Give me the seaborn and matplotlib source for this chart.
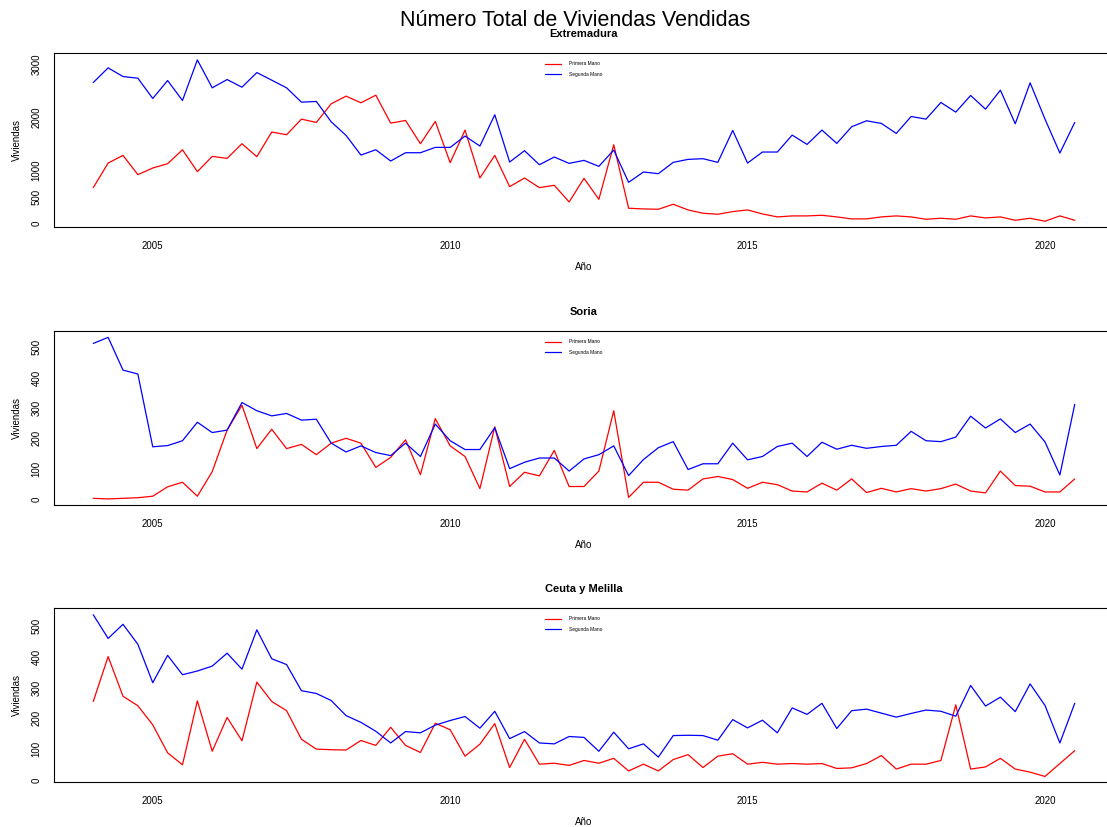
import numpy as np
import pandas as pd
import seaborn as sns
import matplotlib.pyplot as plt

# quarterly series, 2004 Q1 .. 2020 Q3
start_year = 2004
series_names = ['Primera Mano', 'Segunda Mano']
regions = ['Extremadura', 'Soria', 'Ceuta y Melilla']

extremadura_primera = [675, 1137, 1281, 919, 1044, 1125, 1387, 975, 1262, 1225, 1500, 1256,
                       1719, 1669, 1962, 1900, 2250, 2394, 2269, 2412, 1887, 1937, 1500, 1919,
                       1144, 1756, 856, 1281, 694, 856, 675, 719, 406, 850, 456, 1481,
                       288, 275, 269, 363, 256, 194, 175, 225, 256, 181, 125, 144,
                       144, 156, 125, 88, 88, 125, 144, 125, 81, 100, 81, 144,
                       106, 125, 62, 100, 44, 144, 62]
extremadura_segunda = [2650, 2925, 2762, 2731, 2350, 2687, 2312, 3075, 2550, 2706, 2562, 2837,
                       2694, 2550, 2281, 2294, 1912, 1656, 1287, 1387, 1175, 1331, 1331, 1431,
                       1431, 1644, 1456, 2044, 1156, 1369, 1106, 1250, 1131, 1187, 1075, 1381,
                       775, 969, 937, 1150, 1206, 1219, 1150, 1750, 1137, 1344, 1344, 1662,
                       1487, 1756, 1506, 1819, 1931, 1881, 1694, 2012, 1962, 2275, 2094, 2406,
                       2150, 2506, 1875, 2644, 1962, 1325, 1900]

soria_primera = [2, 0, 2, 4, 9, 40, 55, 9, 90, 227, 309, 166,
                 230, 166, 180, 146, 184, 200, 184, 104, 137, 195, 80, 265,
                 175, 140, 34, 238, 41, 88, 76, 160, 41, 41, 92, 291,
                 5, 55, 55, 32, 29, 66, 74, 64, 35, 55, 47, 26,
                 23, 52, 29, 66, 21, 35, 23, 34, 26, 34, 49, 26,
                 20, 92, 44, 42, 23, 23, 66]
soria_segunda = [513, 533, 425, 412, 172, 176, 192, 253, 219, 227, 318, 291,
                 274, 282, 260, 263, 184, 155, 175, 153, 143, 184, 140, 247,
                 192, 163, 163, 235, 100, 121, 135, 135, 92, 132, 146, 175,
                 77, 130, 169, 189, 97, 116, 116, 184, 129, 140, 173, 184,
                 140, 187, 164, 177, 167, 173, 177, 223, 192, 189, 204, 273,
                 234, 264, 219, 247, 188, 79, 312]

ceuta_primera = [255, 401, 272, 241, 179, 88, 49, 257, 93, 203, 127, 318,
                 255, 225, 132, 100, 98, 97, 128, 112, 171, 112, 89, 184,
                 163, 77, 116, 183, 40, 132, 51, 54, 47, 63, 54, 70,
                 29, 51, 29, 66, 82, 40, 77, 85, 51, 57, 51, 53,
                 51, 53, 37, 39, 53, 79, 35, 51, 51, 63, 244, 35,
                 42, 70, 35, 25, 11, 53, 95]
ceuta_segunda = [537, 460, 506, 441, 316, 405, 342, 354, 370, 412, 360, 488,
                 394, 375, 290, 281, 258, 209, 187, 158, 120, 157, 153, 178,
                 193, 206, 168, 223, 134, 157, 120, 117, 141, 138, 93, 155,
                 101, 117, 74, 144, 145, 144, 129, 196, 169, 194, 153, 234,
                 213, 249, 167, 225, 230, 217, 204, 216, 227, 223, 207, 307,
                 240, 269, 222, 312, 242, 120, 249]

data = {
    'Extremadura': (extremadura_primera, extremadura_segunda),
    'Soria': (soria_primera, soria_segunda),
    'Ceuta y Melilla': (ceuta_primera, ceuta_segunda),
}

rows = []
for region in regions:
    for name, vals in zip(series_names, data[region]):
        for i, v in enumerate(vals):
            rows.append({'Region': region, 'Tipo': name, 'Fecha': start_year + i / 4, 'Viviendas': v})
df = pd.DataFrame(rows)

sns.set_style('white')
plt.rcParams['font.family'] = ['Liberation Sans', 'DejaVu Sans']
plt.rcParams['text.color'] = 'black'
plt.rcParams['axes.labelcolor'] = 'black'

fig = plt.figure(figsize=(11.07, 8.27), dpi=100)
W, H = 1107, 827
# axes boxes in pixels: (top, bottom)
boxes = [(52.7, 227.3), (330.7, 505.3), (607.7, 782.3)]
ylims = [(-70, 3210), (-21, 555), (-8, 560)]
palette = {'Primera Mano': 'red', 'Segunda Mano': 'blue'}

for region, (top, bot), ylim in zip(regions, boxes, ylims):
    ax = fig.add_axes([54 / W, (H - bot) / H, (1114 - 54) / W, (bot - top) / H])
    sns.lineplot(data=df[df['Region'] == region], x='Fecha', y='Viviendas', hue='Tipo',
                 palette=palette, linewidth=0.9, ax=ax)
    ax.set_xlim(2003.34, 2021.16)
    ax.set_ylim(*ylim)
    ax.set_xticks([2005, 2010, 2015, 2020])
    if region == 'Extremadura':
        yt = [0, 500, 1000, 1500, 2000, 2500, 3000]
        ax.set_yticks(yt)
        ax.set_yticklabels(['0', '500', '1000', '', '2000', '', '3000'])
    else:
        ax.set_yticks(range(0, 501, 100))
    for lab in ax.get_yticklabels():
        lab.set_rotation(90)
        lab.set_va('center')
    ax.tick_params(axis='both', direction='out', length=5, width=0.7, labelsize=7,
                   color='black', labelcolor='black', pad=5)
    ax.tick_params(axis='y', pad=4)
    for sp in ax.spines.values():
        sp.set_color('black')
        sp.set_linewidth(0.8)
    ax.set_title(region, fontsize=8, fontweight='bold', pad=11)
    ax.set_xlabel('Año', fontsize=7, labelpad=8)
    ax.set_ylabel('Viviendas', fontsize=7, labelpad=7)
    ax.legend(loc='upper left', bbox_to_anchor=((543 - 54) / 1060, 0.962), frameon=False,
              fontsize=3.5, handlelength=3.2, handletextpad=1.8, labelspacing=1.2,
              borderaxespad=0)

fig.suptitle('Número Total de Viviendas Vendidas', fontsize=15.5, x=575 / W, y=1 - 20 / H,
             va='center', color='black')
fig.savefig('out.png', dpi=100)
